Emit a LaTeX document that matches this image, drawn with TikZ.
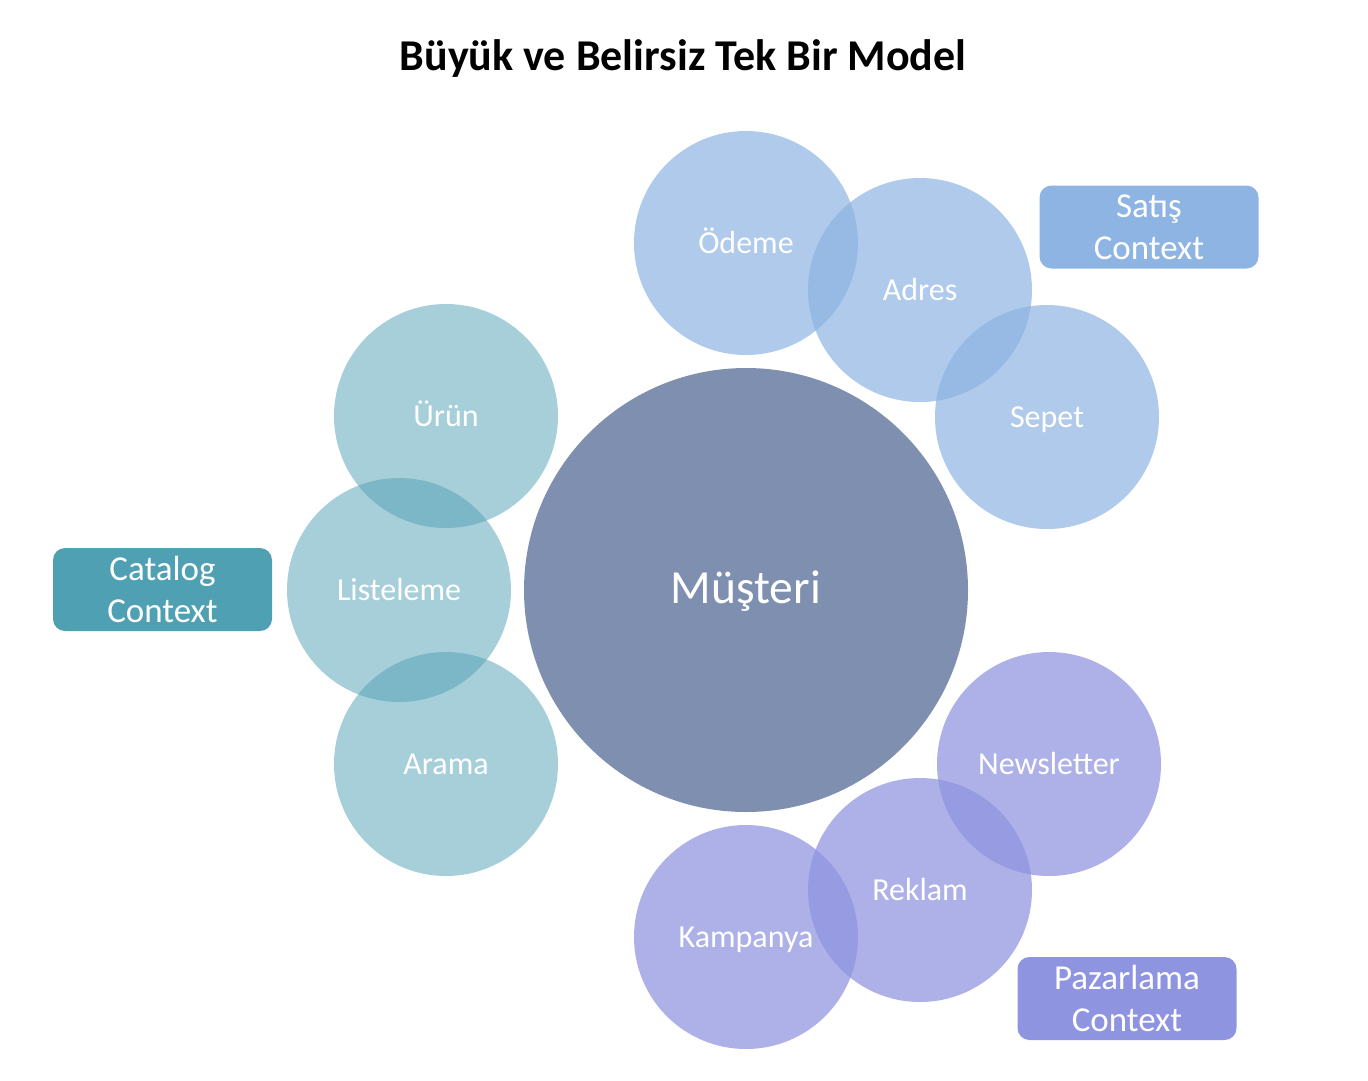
\documentclass[tikz,border=0pt]{standalone}
\usepackage{fontspec}
\setmainfont{Carlito}
\definecolor{satisc}{RGB}{142,180,227}
\definecolor{catc}{RGB}{80,160,180}
\definecolor{pazc}{RGB}{143,148,224}
\definecolor{musc}{RGB}{127,143,175}
\begin{document}
\begin{tikzpicture}[x=1pt,y=-1pt,
  bubble/.style={circle, inner sep=0pt, minimum size=224pt, draw=none},
  bluebub/.style={bubble, fill=satisc, fill opacity=0.7},
  tealbub/.style={bubble, fill=catc, fill opacity=0.5},
  purpbub/.style={bubble, fill=pazc, fill opacity=0.72},
  lbl/.style={text=white, font=\fontsize{32}{36}\selectfont, inner sep=0pt, anchor=base, yshift=-10pt},
  ctxbox/.style={rounded corners=12pt, minimum width=219pt, minimum height=83pt,
     inner sep=0pt, text=white, align=center, font=\fontsize{35}{42}\selectfont}]
\useasboundingbox (0,0) rectangle (1368,1080);
\fill[white] (0,0) rectangle (1368,1080);

\node[font=\bfseries\fontsize{44}{50}\selectfont, anchor=base] (title) at (683,70) {Büyük ve Belirsiz Tek Bir Model};

% center
\node[circle, inner sep=0pt, minimum size=444pt, fill=musc] (mus) at (746,590) {};

% Satis circles
\node[bluebub] (odeme) at (746,243) {};
\node[bluebub] (adres) at (920,290) {};
\node[bluebub] (sepet) at (1047,417) {};
% Catalog circles
\node[tealbub] (urun) at (446,416) {};
\node[tealbub] (liste) at (399,590) {};
\node[tealbub] (arama) at (446,764) {};
% Pazarlama circles
\node[purpbub] (news) at (1049,764) {};
\node[purpbub] (reklam) at (920,890) {};
\node[purpbub] (kamp) at (746,937) {};

% labels
\node[lbl, font=\fontsize{47.5}{52}\selectfont, yshift=-3.5pt] (musl) at (mus.center) {Müşteri};
\node[lbl] (odemel) at (odeme.center) {Ödeme};
\node[lbl] (adresl) at (adres.center) {Adres};
\node[lbl] (sepetl) at (sepet.center) {Sepet};
\node[lbl] (urunl) at (urun.center) {Ürün};
\node[lbl] (listel) at (liste.center) {Listeleme};
\node[lbl] (aramal) at (arama.center) {Arama};
\node[lbl] (newsl) at (news.center) {Newsletter};
\node[lbl] (reklaml) at (reklam.center) {Reklam};
\node[lbl] (kampl) at (kamp.center) {Kampanya};

% context boxes
\node[ctxbox, fill=satisc] (satis) at (1149,227) {Satış\\Context};
\node[ctxbox, fill=catc] (catalog) at (162.5,589.5) {Catalog\\Context};
\node[ctxbox, fill=pazc] (pazar) at (1127,998.5) {Pazarlama\\Context};
\end{tikzpicture}
\end{document}
